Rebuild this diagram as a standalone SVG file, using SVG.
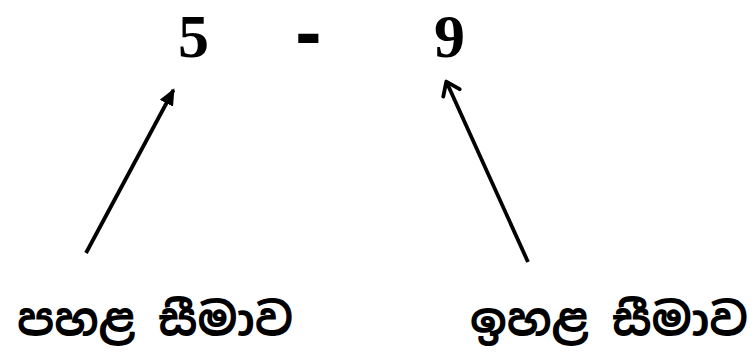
<svg xmlns="http://www.w3.org/2000/svg" width="756" height="353" viewBox="0 0 756 353">
<style>
.num{font-family:"Liberation Serif","Times New Roman",serif;font-weight:bold;font-size:62px;fill:#000}
.dash{stroke:#000;stroke-width:4;stroke-linejoin:miter}
.lbl{font-family:"Iskoola Pota","Noto Sans Sinhala","Noto Serif Sinhala","Noto Sans",sans-serif;font-weight:bold;font-size:45px;fill:#000}
.arr{stroke:#000;stroke-width:3.8;fill:none}
</style>
<defs>
<marker id="tri" markerWidth="18" markerHeight="16" refX="15" refY="8" orient="auto" markerUnits="userSpaceOnUse">
<path d="M0,0.5 L17,8 L0,15.5 Z" fill="#000"/>
</marker>
<marker id="open" markerWidth="18" markerHeight="22" refX="15" refY="11" orient="auto" markerUnits="userSpaceOnUse">
<path d="M3,2 L15.5,11 L3,20" fill="none" stroke="#000" stroke-width="3.8" stroke-linecap="round" stroke-linejoin="round"/>
</marker>
</defs>
<g id="range">
<text class="num" x="178" y="57">5</text>
<text class="num dash" x="298" y="53">-</text>
<text class="num" x="434" y="57">9</text>
</g>
<g id="lower-label">
<text class="lbl" x="17" y="336" textLength="276" lengthAdjust="spacingAndGlyphs">පහළ සීමාව</text>
</g>
<g id="upper-label">
<text class="lbl" x="470" y="336" textLength="278" lengthAdjust="spacingAndGlyphs">ඉහළ සීමාව</text>
</g>
<g id="connectors">
<line class="arr" x1="86" y1="253" x2="173.5" y2="90" marker-end="url(#tri)"/>
<line class="arr" x1="528" y1="262" x2="446.5" y2="82" marker-end="url(#open)"/>
</g>
</svg>
